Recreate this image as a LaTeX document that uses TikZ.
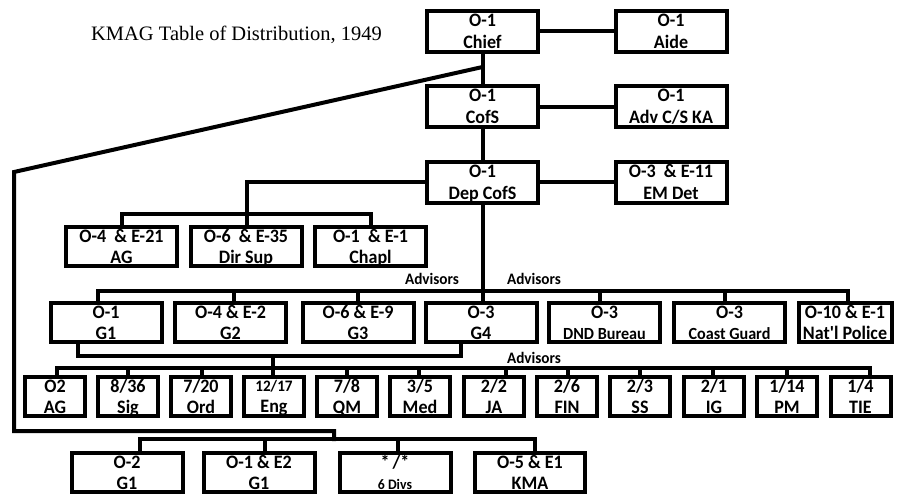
\documentclass[tikz,border=0pt]{standalone}
\usepackage{fontspec}
\newfontfamily\carl{Carlito}[FakeStretch=0.95]
\newfontfamily\tser{Liberation Serif}
\begin{document}
\begin{tikzpicture}[x=1pt,y=-1pt,
  box/.style={draw, line width=4pt, inner sep=0pt, align=center,
    font=\carl\bfseries\fontsize{19}{21}\selectfont, minimum height=39.5pt, text depth=0pt},
  topbox/.style={box, font=\carl\bfseries\fontsize{19}{22}\selectfont, minimum height=41pt},
  wbig/.style={box, minimum width=111pt},
  wtop/.style={topbox, minimum width=111pt},
  wsmall/.style={box, minimum width=60pt},
  conn/.style={line width=4pt, line cap=rect},
  advlbl/.style={font=\carl\bfseries\fontsize{16}{16}\selectfont, inner sep=0pt}]
\useasboundingbox (0,0) rectangle (904,496);
\fill[white] (0,0) rectangle (904,496);
\node[font=\tser\fontsize{20.5}{20.5}\selectfont, inner sep=0pt, anchor=base] (title) at (236.5,40) {KMAG Table of Distribution, 1949};
% top column
\node[wtop] (chief) at (482.5,31) {O-1\\Chief};
\node[wtop] (aide) at (671,31) {O-1\\Aide};
\node[wtop] (cofs) at (482.5,106.5) {O-1\\CofS};
\node[wtop] (advcs) at (671,106.5) {O-1\\Adv C/S KA};
\node[wtop] (depcofs) at (482.5,182) {O-1\\Dep CofS};
\node[wtop] (emdet) at (671,182) {O-3 \ \& E-11\\EM Det};
% row 2
\node[wbig] (ag) at (121.5,246.5) {O-4 \ \& E-21\\AG};
\node[wbig] (dirsup) at (246,246.5) {O-6 \ \& E-35\\Dir Sup};
\node[wbig] (chapl) at (370.5,246.5) {O-1 \ \& E-1\\Chapl};
% row 3
\node[wbig] (g1) at (106,322.5) {O-1\\G1};
\node[wbig] (g2) at (230.5,322.5) {O-4 \& E-2\\G2};
\node[wbig] (g3) at (358,322.5) {O-6 \& E-9\\G3};
\node[wbig] (g4) at (481,322.5) {O-3\\G4};
\node[wbig] (dnd) at (604.5,322.5) {O-3\\{\fontsize{17}{21}\selectfont DND Bureau}};
\node[wbig] (cg) at (729.5,322.5) {O-3\\{\fontsize{17}{21}\selectfont Coast Guard}};
\node[box, minimum width=93pt] (np) at (845,322.5) {O-10 \& E-1\\Nat'l Police};
% row 4
\node[wsmall] (ag2) at (55,396.5) {O2\\AG};
\node[wsmall] (sig) at (128,396.5) {8/36\\Sig};
\node[wsmall] (ord) at (201,396.5) {7/20\\Ord};
\node[wsmall] (eng) at (274,396.5) {{\fontsize{16}{16}\selectfont 12/17}\\Eng};
\node[wsmall] (qm) at (347,396.5) {7/8\\QM};
\node[wsmall] (med) at (420,396.5) {3/5\\Med};
\node[wsmall] (ja) at (494,396.5) {2/2\\JA};
\node[wsmall] (fin) at (567,396.5) {2/6\\FIN};
\node[wsmall] (ss) at (640,396.5) {2/3\\SS};
\node[wsmall] (ig) at (714,396.5) {2/1\\IG};
\node[wsmall] (pm) at (787,396.5) {1/14\\PM};
\node[wsmall] (tie) at (860.5,396.5) {1/4\\TIE};
% row 5
\node[wbig] (g1b) at (127,472.5) {O-2\\G1};
\node[wbig] (g1c) at (259,472.5) {O-1 \& E2\\G1};
\node[wbig] (divs) at (395,472.5) {*\,/*\\{\fontsize{14.5}{21}\selectfont 6 Divs}};
\node[box, minimum width=110pt] (kma) at (530,472.5) {O-5 \& E1\\KMA};
% labels
\node[advlbl] (adv1) at (432,279) {Advisors};
\node[advlbl] (adv2) at (534,279) {Advisors};
\node[advlbl] (adv3) at (534,358) {Advisors};
% top connectors
\draw[conn] (chief) -- (aide);
\draw[conn] (cofs) -- (advcs);
\draw[conn] (depcofs) -- (emdet);
\draw[conn] (chief) -- (cofs);
\draw[conn] (cofs) -- (depcofs);
% row 2
\coordinate (b2) at (247,214);
\coordinate (b2w) at (121.5,214);
\coordinate (b2e) at (370.5,214);
\draw[conn] (depcofs.west) -| (b2);
\draw[conn] (b2w) -- (b2e);
\draw[conn] (b2w) -- (b2w |- ag.north);
\draw[conn] (b2) -- (b2 |- dirsup.north);
\draw[conn] (b2e) -- (b2e |- chapl.north);
% row 3
\coordinate (b3w) at (98,291);
\coordinate (b3e) at (848,291);
\draw[conn] (depcofs.south) -- (depcofs.south |- g4.north);
\draw[conn] (b3w) -- (b3e);
\draw[conn] (b3w) -- (b3w |- g1.north);
\draw[conn] (b3e) -- (b3e |- np.north);
\foreach \n/\s in {g2/3.5,g3/0,dnd/-4.5,cg/-4.5}
  \draw[conn] ([xshift=\s pt]\n.north) -- ([xshift=\s pt]\n.north |- b3w);
% row 3 to row 4
\coordinate (j34) at (273,356);
\coordinate (b4w) at (57,368);
\coordinate (b4e) at (870,368);
\draw[conn] ([xshift=-28pt]g1.south) |- (j34) -| ([xshift=-20pt]g4.south);
\draw[conn] (j34) -- (j34 |- b4w);
\draw[conn] (b4w) -- (b4e);
\foreach \n/\s in {ag2/2,sig/0,ord/1,eng/-1,qm/0,med/-1,ja/12,fin/1,ss/0,ig/-1,pm/0,tie/9.5}
  \draw[conn] ([xshift=\s pt]\n.north) -- ([xshift=\s pt]\n.north |- b4w);
% long left connector to row 5
\coordinate (diagA) at (482.5,67);
\coordinate (diagB) at (14,172);
\coordinate (r5top) at (334,431);
\coordinate (r5bus) at (334,439);
\coordinate (b5w) at (140,439);
\coordinate (b5e) at (535,439);
\draw[conn] (diagA) -- (diagB) |- (r5top) -- (r5bus);
\draw[conn] (b5w) -- (b5e);
\draw[conn] (b5w) -- (b5w |- g1b.north);
\draw[conn] (b5e) -- (b5e |- kma.north);
\foreach \n/\s in {g1c/6,divs/3}
  \draw[conn] ([xshift=\s pt]\n.north) -- ([xshift=\s pt]\n.north |- b5w);
\end{tikzpicture}
\end{document}
